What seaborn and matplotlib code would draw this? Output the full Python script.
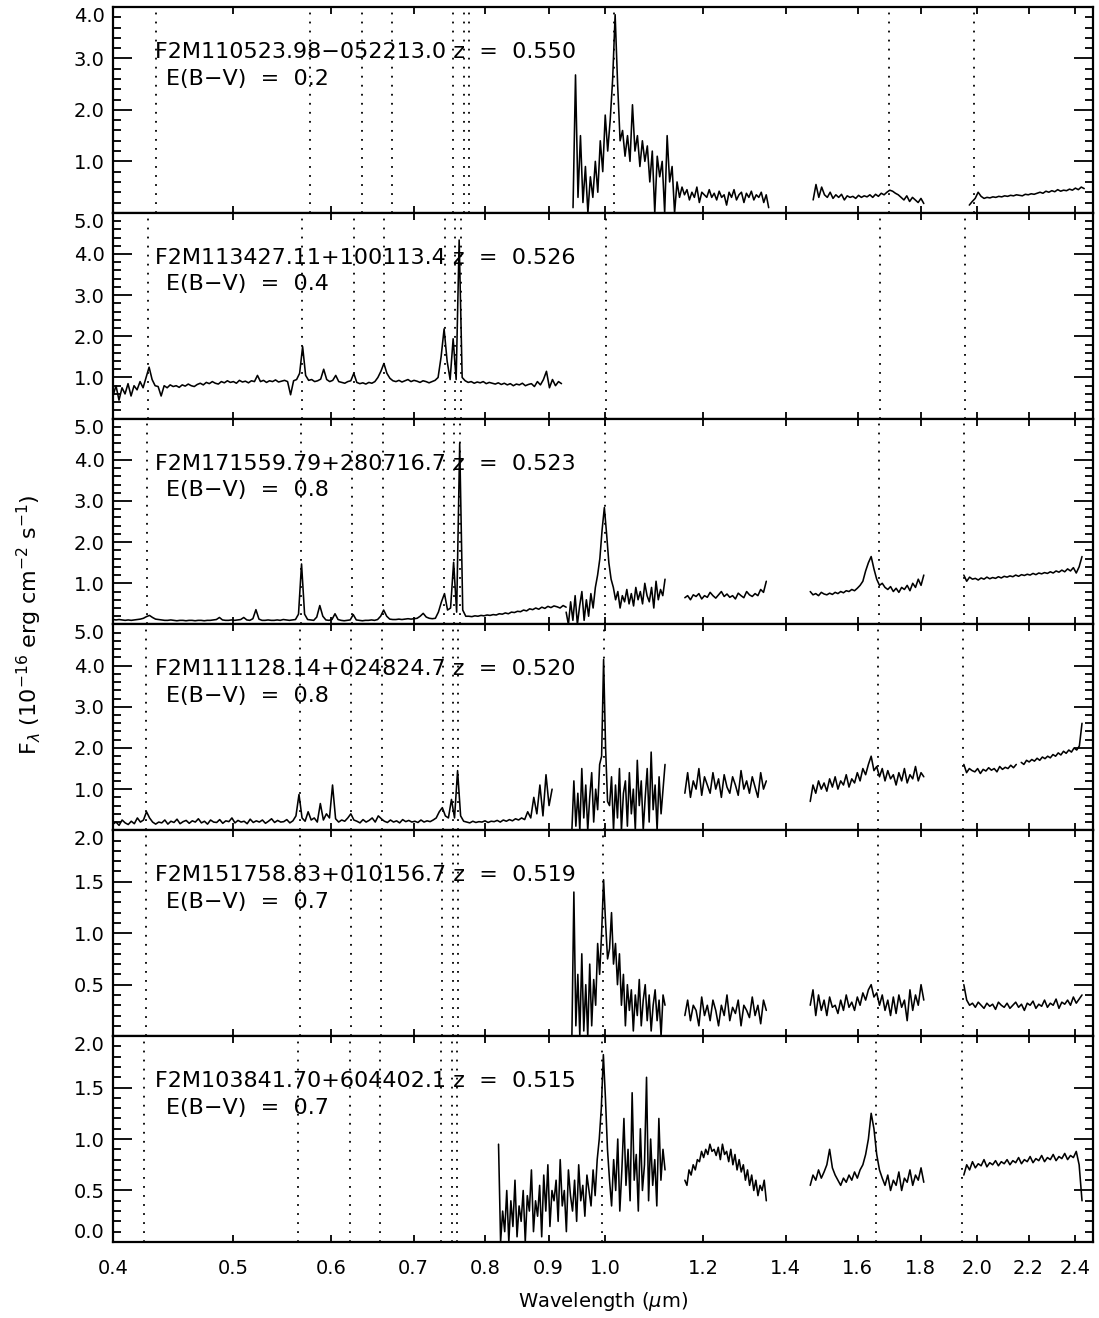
import numpy as np
import pandas as pd
import matplotlib
matplotlib.use("Agg")
import matplotlib.pyplot as plt
from matplotlib.ticker import MultipleLocator, FixedLocator, NullLocator, FixedFormatter
import seaborn as sns

# ---------------- data ----------------
names = ["F2M110523.98\u2212052213.0", "F2M113427.11+100113.4", "F2M171559.79+280716.7",
         "F2M111128.14+024824.7", "F2M151758.83+010156.7", "F2M103841.70+604402.1"]
redshifts = [0.550, 0.526, 0.523, 0.520, 0.519, 0.515]
ebv = ["0.2", "0.4", "0.8", "0.8", "0.7", "0.7"]
# rest wavelengths (micron): MgII, [OII], Hd, Hg, Hb, [OIII], [OIII], Ha, Pag, Pab
rest_lines = [0.2798, 0.3727, 0.4102, 0.4340, 0.4861, 0.4959, 0.5007, 0.6563, 1.0938, 1.2818]

xticks = [0.4, 0.5, 0.6, 0.7, 0.8, 0.9, 1.0, 1.2, 1.4, 1.6, 1.8, 2.0, 2.2, 2.4]
xticklabels = ["0.4", "0.5", "0.6", "0.7", "0.8", "0.9", "1.0", "1.2", "1.4", "1.6", "1.8", "2.0", "2.2", "2.4"]

ylims = [(0, 4), (0, 5), (0, 5), (0, 5), (0, 2), (0, 2)]
yticks = [[0, 1, 2, 3, 4], [0, 1, 2, 3, 4, 5], [0, 1, 2, 3, 4, 5], [0, 1, 2, 3, 4, 5],
          [0, 0.5, 1.0, 1.5, 2.0], [0, 0.5, 1.0, 1.5, 2.0]]
yticklabels = [["", "1.0", "2.0", "3.0", "4.0"],
               ["", "1.0", "2.0", "3.0", "4.0", "5.0"],
               ["", "1.0", "2.0", "3.0", "4.0", "5.0"],
               ["", "1.0", "2.0", "3.0", "4.0", "5.0"],
               ["", "0.5", "1.0", "1.5", "2.0"],
               ["0.0", "0.5", "1.0", "1.5", "2.0"]]
yminor = [0.2, 0.2, 0.2, 0.2, 0.1, 0.1]

# ---- panel 1 spectra ----
p1_a = [0.1, 2.68, 0.3, 1.5, 0.2, 0.9, 0.0, 0.7, 0.3, 1.0, 0.4, 1.4, 0.8, 1.9, 1.2, 1.8, 2.6, 3.85, 2.5, 1.4,
        1.6, 1.1, 1.5, 1.0, 2.1, 1.2, 1.5, 0.9, 1.4, 1.0, 1.3, 0.6, 1.2, 0.0, 1.1, 0.7, 1.0, 0.0, 1.5, 0.6,
        0.9, 0.0, 0.6, 0.3, 0.5, 0.35, 0.45, 0.25, 0.4, 0.3, 0.5, 0.2, 0.4, 0.35, 0.3, 0.45, 0.3, 0.38, 0.25, 0.42,
        0.3, 0.35, 0.15, 0.4, 0.3, 0.45, 0.25, 0.35, 0.4, 0.2, 0.38, 0.3, 0.42, 0.25, 0.35, 0.3, 0.4, 0.2, 0.35, 0.1]
p1_b = [0.25, 0.55, 0.3, 0.5, 0.35, 0.3, 0.4, 0.28, 0.35, 0.3, 0.36, 0.25, 0.33, 0.3, 0.32, 0.28, 0.34, 0.3, 0.33, 0.31,
        0.35, 0.3, 0.36, 0.32, 0.38, 0.35, 0.4, 0.44, 0.42, 0.38, 0.35, 0.3, 0.25, 0.33, 0.22, 0.3, 0.25, 0.2, 0.28, 0.18]
p1_c = [0.15, 0.22, 0.28, 0.4, 0.32, 0.28, 0.3, 0.29, 0.31, 0.3, 0.32, 0.31, 0.33, 0.32, 0.34, 0.33, 0.35, 0.34, 0.33, 0.36,
        0.35, 0.37, 0.36, 0.38, 0.4, 0.38, 0.42, 0.4, 0.43, 0.41, 0.45, 0.42, 0.44, 0.43, 0.46, 0.44, 0.48, 0.45, 0.5, 0.47]

# ---- panel 2 spectra ----
p2_opt = [0.55, 0.8, 0.45, 0.75, 0.6, 0.85, 0.55, 0.8, 0.7, 0.9, 0.75,
          1.0, 1.25, 0.95, 0.8, 0.78, 0.55, 0.8, 0.75, 0.82, 0.78,
          0.8, 0.76, 0.82, 0.79, 0.84, 0.8, 0.78, 0.83, 0.86, 0.82, 0.88, 0.85, 0.9, 0.86, 0.84, 0.9, 0.87, 0.92,
          0.88, 0.9, 0.86, 0.93, 0.89, 0.91, 0.87, 0.92, 0.9,
          1.05,
          0.9, 0.93, 0.88, 0.92, 0.9, 0.94, 0.89, 0.91, 0.93, 0.9,
          0.58,
          0.92, 0.95, 1.1, 1.75, 1.05, 0.93,
          0.95, 0.9, 0.92, 0.96,
          1.2, 0.95, 0.9, 0.93, 1.05, 0.9, 0.88, 0.86, 0.9, 0.92, 1.1, 0.88, 0.85, 0.87, 0.84, 0.88, 0.86, 0.9,
          1.0, 1.15, 1.34, 1.1, 0.98, 0.92,
          0.9, 0.93, 0.89, 0.92, 0.95, 0.9, 0.93, 0.91, 0.88, 0.92, 0.9, 0.87, 0.9, 0.93,
          1.0, 1.5, 2.18, 1.4, 0.95, 1.94, 0.95, 4.34, 1.0, 0.92,
          0.88, 0.9, 0.86, 0.89, 0.87, 0.9, 0.85, 0.88, 0.86, 0.84, 0.87, 0.83, 0.86, 0.82, 0.85, 0.8, 0.84,
          0.82, 0.86, 0.8, 0.83, 0.85, 0.78, 0.9, 0.82, 0.95,
          1.15, 0.75, 0.95, 0.8, 0.9, 0.85]

# ---- panel 3 spectra ----
p3_opt = [0.12, 0.11, 0.12, 0.11, 0.1, 0.11, 0.1, 0.11, 0.12, 0.13, 0.15,
          0.19, 0.22, 0.17, 0.13, 0.12,
          0.11, 0.1, 0.1, 0.11, 0.1, 0.09, 0.1, 0.1, 0.09, 0.1, 0.1, 0.09, 0.1, 0.1, 0.09, 0.1, 0.1, 0.11, 0.12,
          0.17, 0.11, 0.1, 0.1, 0.11, 0.1, 0.11, 0.12, 0.17, 0.11, 0.1, 0.14, 0.36, 0.13, 0.1,
          0.1, 0.11, 0.1, 0.1, 0.11, 0.1, 0.12, 0.11, 0.1, 0.11, 0.12,
          0.25, 1.47, 0.25, 0.12, 0.11, 0.1, 0.18, 0.46, 0.2, 0.11, 0.1, 0.12, 0.26, 0.12, 0.1, 0.09, 0.1, 0.11,
          0.24, 0.11, 0.1, 0.09, 0.1, 0.1, 0.11, 0.1, 0.12, 0.2, 0.35, 0.2, 0.13, 0.12,
          0.12, 0.13, 0.12, 0.13, 0.14, 0.13, 0.14, 0.15,
          0.2, 0.27, 0.18, 0.15, 0.14, 0.15, 0.3, 0.55, 0.75, 0.35, 0.4, 1.51, 0.3, 4.4, 0.35, 0.2,
          0.2, 0.19, 0.21, 0.2, 0.22, 0.21, 0.23, 0.22, 0.24, 0.23, 0.26, 0.25, 0.28, 0.26, 0.3, 0.29, 0.32,
          0.31, 0.35, 0.33, 0.38, 0.36, 0.4, 0.37, 0.42, 0.39, 0.44, 0.41, 0.45, 0.43, 0.4, 0.46, 0.42]
p3_a = [0.3, 0.0, 0.55, 0.1, 0.7, 0.0, 0.45, 0.8, 0.1, 0.6, 0.2, 0.75, 0.4, 0.9, 1.2, 1.6, 2.3, 2.84, 2.2, 1.5,
        1.1, 0.9, 0.6, 0.8, 0.4, 0.7, 0.55, 0.85, 0.5, 0.75, 0.45, 0.9, 0.6, 0.8, 0.5, 1.0, 0.7, 0.55, 0.9, 0.4,
        1.05, 0.6, 0.85, 0.7, 1.1]
p3_b = [0.65, 0.7, 0.6, 0.72, 0.68, 0.75, 0.62, 0.7, 0.66, 0.78, 0.7, 0.64, 0.72, 0.8, 0.68, 0.74, 0.66, 0.7, 0.62,
        0.76, 0.7, 0.65, 0.8, 0.72, 0.68, 0.75, 0.7, 0.85, 0.78, 1.05]
p3_c = [0.8, 0.72, 0.75, 0.7, 0.78, 0.74, 0.72, 0.76, 0.73, 0.78, 0.75, 0.8, 0.77, 0.82, 0.8, 0.85, 0.82, 0.88, 0.95,
        1.05, 1.3, 1.5, 1.65, 1.35, 1.1, 0.95, 1.0, 0.9, 0.85, 0.92, 0.8, 0.88, 0.78, 0.9, 0.85, 0.95, 0.82, 1.0,
        0.9, 1.1, 0.95, 1.2]
p3_d = [1.2, 1.05, 1.15, 1.1, 1.12, 1.08, 1.13, 1.1, 1.15, 1.11, 1.14, 1.12, 1.16, 1.13, 1.17, 1.15, 1.18, 1.16, 1.2,
        1.17, 1.21, 1.19, 1.22, 1.2, 1.24, 1.21, 1.25, 1.23, 1.26, 1.24, 1.28, 1.25, 1.3, 1.27, 1.32, 1.28, 1.35,
        1.3, 1.38, 1.25, 1.4, 1.65]

# ---- panel 4 spectra ----
p4_opt = [0.15, 0.2, 0.12, 0.25, 0.18, 0.14, 0.22, 0.16, 0.3, 0.2, 0.25,
          0.45, 0.3, 0.2, 0.15,
          0.2, 0.18, 0.25, 0.15, 0.22, 0.19, 0.27, 0.16, 0.21, 0.24, 0.17, 0.23, 0.2, 0.28, 0.18, 0.22, 0.15, 0.25,
          0.2, 0.19, 0.26, 0.17, 0.23, 0.21, 0.3, 0.18, 0.24, 0.2, 0.22, 0.16, 0.27, 0.19, 0.23, 0.2, 0.25, 0.17,
          0.22, 0.28, 0.19, 0.24, 0.2, 0.21, 0.26, 0.18, 0.23,
          0.35, 0.87, 0.3, 0.22, 0.45, 0.25, 0.3, 0.2, 0.65, 0.25, 0.4, 0.3, 1.1, 0.28, 0.2, 0.25, 0.22, 0.3, 0.4, 0.25,
          0.22, 0.18, 0.26, 0.2, 0.24, 0.3, 0.2, 0.35, 0.28, 0.22, 0.19, 0.25, 0.2, 0.23, 0.18, 0.26, 0.21, 0.24,
          0.2, 0.22, 0.19, 0.25, 0.2, 0.23, 0.21,
          0.25, 0.3, 0.45, 0.55, 0.35, 0.3, 0.75, 0.3, 1.45, 0.35, 0.22,
          0.2, 0.18, 0.22, 0.19, 0.21, 0.2, 0.23, 0.19, 0.22, 0.21, 0.24, 0.2, 0.25, 0.22, 0.26, 0.23, 0.28, 0.25,
          0.3, 0.26, 0.45, 0.3, 0.8, 0.4, 1.1, 0.35, 1.35, 0.6, 1.0]
p4_a = [0.0, 1.2, 0.1, 0.9, 0.0, 1.5, 0.3, 1.1, 0.0, 0.8, 1.4, 0.2, 1.0, 0.5, 1.6, 1.8, 4.15, 2.0, 0.7, 0.6,
        1.3, 0.0, 1.1, 0.3, 1.5, 0.0, 0.9, 1.2, 0.1, 1.4, 0.4, 1.0, 0.0, 1.7, 0.6, 1.2, 0.0, 0.8, 1.5, 0.2,
        1.9, 0.5, 1.1, 0.0, 1.3, 0.4, 1.0, 1.6]
p4_b = [0.9, 1.4, 0.8, 1.2, 1.0, 1.5, 0.85, 1.3, 1.1, 0.9, 1.4, 1.0, 1.25, 0.8, 1.35, 1.05, 0.9, 1.3, 1.1, 0.85,
        1.45, 1.0, 1.2, 0.9, 1.3, 1.05, 0.8, 1.4, 1.0, 1.2]
p4_c = [0.7, 1.1, 0.9, 1.2, 1.0, 1.15, 0.95, 1.25, 1.05, 1.3, 1.0, 1.2, 1.1, 1.35, 1.05, 1.25, 1.15, 1.4, 1.2, 1.5,
        1.35, 1.6, 1.8, 1.45, 1.55, 1.3, 1.5, 1.2, 1.45, 1.25, 1.35, 1.1, 1.4, 1.2, 1.5, 1.15, 1.35, 1.25, 1.55,
        1.2, 1.4, 1.3]
p4_d1 = [1.6, 1.4, 1.5, 1.45, 1.42, 1.5, 1.38, 1.48, 1.44, 1.52, 1.46, 1.5, 1.42, 1.55, 1.48, 1.53, 1.5, 1.58,
         1.52, 1.6]
p4_d2 = [1.65, 1.6, 1.7, 1.66, 1.72, 1.68, 1.75, 1.7, 1.78, 1.74, 1.8, 1.76, 1.84, 1.8, 1.88, 1.83, 1.92, 1.87,
         1.95, 1.9, 2.0, 1.95, 2.05, 2.6]

# ---- panel 5 spectra ----
p5_a = [0.0, 1.4, 0.1, 0.6, 0.0, 0.8, 0.05, 0.5, 0.0, 0.7, 0.1, 0.55, 0.3, 0.9, 0.6, 1.0, 1.52, 1.1, 0.75, 0.85,
        1.2, 0.7, 0.9, 0.5, 0.8, 0.3, 0.6, 0.1, 0.5, 0.25, 0.45, 0.05, 0.4, 0.2, 0.55, 0.1, 0.35, 0.5, 0.15, 0.4,
        0.05, 0.3, 0.45, 0.15, 0.35, 0.0, 0.4, 0.3]
p5_b = [0.2, 0.35, 0.15, 0.3, 0.25, 0.1, 0.38, 0.2, 0.3, 0.15, 0.35, 0.25, 0.1, 0.3, 0.2, 0.4, 0.15, 0.28, 0.22,
        0.35, 0.1, 0.3, 0.25, 0.18, 0.38, 0.2, 0.3, 0.12, 0.35, 0.25]
p5_c = [0.3, 0.45, 0.2, 0.4, 0.25, 0.35, 0.2, 0.38, 0.28, 0.3, 0.22, 0.35, 0.25, 0.4, 0.28, 0.33, 0.25, 0.38, 0.3,
        0.42, 0.35, 0.45, 0.5, 0.38, 0.42, 0.3, 0.4, 0.25, 0.35, 0.2, 0.38, 0.22, 0.4, 0.28, 0.35, 0.15, 0.45, 0.25,
        0.4, 0.3, 0.5, 0.35]
p5_d = [0.5, 0.35, 0.3, 0.32, 0.28, 0.33, 0.3, 0.27, 0.32, 0.29, 0.31, 0.26, 0.33, 0.3, 0.28, 0.32, 0.27, 0.3, 0.33,
        0.28, 0.31, 0.25, 0.32, 0.3, 0.34, 0.27, 0.31, 0.29, 0.35, 0.28, 0.32, 0.3, 0.36, 0.27, 0.33, 0.31, 0.35,
        0.3, 0.38, 0.32, 0.36, 0.4]

# ---- panel 6 spectra ----
p6_a = [0.95, 0.0, 0.3, 0.1, 0.5, 0.0, 0.4, 0.15, 0.6, 0.05, 0.35, 0.2, 0.5, 0.0, 0.45, 0.3, 0.7, 0.1, 0.4, 0.25,
        0.55, 0.05, 0.65, 0.3, 0.75, 0.15, 0.5, 0.4, 0.6, 0.2, 0.8, 0.35, 0.5, 0.1, 0.7, 0.45, 0.3, 0.6, 0.2, 0.75,
        0.4, 0.55, 0.25, 0.65, 0.5, 0.35, 0.7, 0.45, 0.8, 1.0, 1.3,
        1.82, 1.4, 0.9,
        0.6, 0.35, 0.8, 0.5, 1.0, 0.3, 0.7, 1.2, 0.55, 0.9, 0.4, 1.45, 0.6, 0.85, 0.3, 1.1, 0.5, 0.75, 1.6, 0.4,
        1.0, 0.55, 0.8, 0.35, 1.2, 0.6, 0.9, 0.7]
p6_b = [0.6, 0.55, 0.7, 0.65, 0.75, 0.7, 0.8, 0.78, 0.88, 0.82, 0.9, 0.85, 0.95, 0.88, 0.9, 0.84, 0.92, 0.8, 0.95,
        0.85, 0.88, 0.78, 0.9, 0.75, 0.85, 0.7, 0.8, 0.68, 0.75, 0.6, 0.7, 0.55, 0.65, 0.5, 0.6, 0.45, 0.55, 0.5,
        0.6, 0.4]
p6_c = [0.55, 0.65, 0.6, 0.7, 0.62, 0.68, 0.75, 0.9, 0.72, 0.65, 0.6, 0.55, 0.62, 0.58, 0.65, 0.6, 0.68, 0.62, 0.7,
        0.75, 0.85, 1.0, 1.25, 1.1, 0.85, 0.7, 0.62, 0.55, 0.65, 0.5, 0.6, 0.55, 0.68, 0.5, 0.62, 0.58, 0.7, 0.55,
        0.65, 0.6, 0.72, 0.58]
p6_d = [0.65, 0.75, 0.7, 0.78, 0.72, 0.76, 0.74, 0.8, 0.73, 0.77, 0.75, 0.79, 0.74, 0.78, 0.76, 0.8, 0.75, 0.79,
        0.77, 0.82, 0.76, 0.8, 0.78, 0.83, 0.77, 0.81, 0.79, 0.84, 0.78, 0.82, 0.8, 0.85, 0.79, 0.83, 0.81, 0.86,
        0.8, 0.84, 0.82, 0.88, 0.75, 0.4]

# segment wavelength ranges (micron) paired with their flux arrays
panels_segments = [
    [(0.942, 1.356, p1_a), (1.473, 1.81, p1_b), (1.97, 2.44, p1_c)],
    [(0.40, 0.922, p2_opt)],
    [(0.40, 0.93, p3_opt), (0.93, 1.118, p3_a), (1.16, 1.35, p3_b), (1.465, 1.81, p3_c), (1.95, 2.43, p3_d)],
    [(0.40, 0.906, p4_opt), (0.94, 1.118, p4_a), (1.16, 1.35, p4_b), (1.465, 1.81, p4_c),
     (1.95, 2.15, p4_d1), (2.17, 2.43, p4_d2)],
    [(0.94, 1.118, p5_a), (1.16, 1.35, p5_b), (1.465, 1.81, p5_c), (1.95, 2.43, p5_d)],
    [(0.82, 1.118, p6_a), (1.16, 1.35, p6_b), (1.465, 1.81, p6_c), (1.95, 2.43, p6_d)],
]

# ---------------- plotting ----------------
sns.set_style("ticks")
plt.rcParams["font.family"] = ["DejaVu Sans"]
plt.rcParams["mathtext.fontset"] = "dejavusans"
for key in ["text.color", "axes.labelcolor", "xtick.color", "ytick.color", "axes.edgecolor"]:
    plt.rcParams[key] = "black"

fig, axes = plt.subplots(6, 1, sharex=True, figsize=(10.99, 13.18), dpi=100)
fig.subplots_adjust(left=0.1028, right=0.9945, top=0.9947, bottom=0.0577, hspace=0)

for k, ax in enumerate(axes):
    rows = []
    for s, (lo, hi, vals) in enumerate(panels_segments[k]):
        wl = np.geomspace(lo, hi, len(vals))
        for w, f in zip(wl, vals):
            rows.append((w, f, s))
    df = pd.DataFrame(rows, columns=["wl", "flux", "seg"])
    sns.lineplot(data=df, x="wl", y="flux", units="seg", estimator=None, sort=False,
                 color="black", lw=1.15, ax=ax, legend=False)

    z = redshifts[k]
    for rl in rest_lines:
        ax.axvline(rl * (1 + z), color="black", lw=1.3, linestyle=(0, (1, 4)), zorder=1)

    ax.set_xscale("log")
    ax.set_xlim(0.4, 2.48)
    ax.set_ylim(*ylims[k])
    ax.set_xlabel("")
    ax.set_ylabel("")

    ax.yaxis.set_major_locator(FixedLocator(yticks[k]))
    ax.yaxis.set_major_formatter(FixedFormatter(yticklabels[k]))
    ax.yaxis.set_minor_locator(MultipleLocator(yminor[k]))
    ax.tick_params(axis="y", which="major", direction="in", length=14, width=1.3,
                   left=True, right=True, labelsize=14, pad=6, colors="black")
    ax.tick_params(axis="y", which="minor", direction="in", length=6, width=1.3,
                   left=True, right=True, colors="black")
    ax.tick_params(axis="x", which="major", direction="in", length=5, width=1.3,
                   top=True, bottom=True, labelsize=14, pad=12, colors="black")
    ax.tick_params(axis="x", which="minor", bottom=False, top=False)
    for sp in ax.spines.values():
        sp.set_linewidth(1.6)
        sp.set_color("black")

    ax.text(0.043, 0.782, f"{names[k]} z  =  {z:.3f}", transform=ax.transAxes,
            fontsize=16, ha="left", va="center", color="black")
    ax.text(0.054, 0.652, f"E(B\u2212V)  =  {ebv[k]}", transform=ax.transAxes,
            fontsize=16, ha="left", va="center", color="black")

axes[-1].xaxis.set_major_locator(FixedLocator(xticks))
axes[-1].xaxis.set_major_formatter(FixedFormatter(xticklabels))
axes[-1].xaxis.set_minor_locator(NullLocator())
axes[-1].set_xlabel("Wavelength ($\\mu$m)", fontsize=14, labelpad=9, color="black")

fig.canvas.draw()
for k, ax in enumerate(axes):
    ticks = ax.yaxis.get_major_ticks()
    ticks[-1].label1.set_verticalalignment("top")
    if k == len(axes) - 1:
        ticks[0].label1.set_verticalalignment("bottom")

fig.text(0.027, 0.526, "F$_\\lambda$ (10$^{-16}$ erg cm$^{-2}$ s$^{-1}$)", rotation=90,
         fontsize=16, ha="center", va="center", color="black")

fig.savefig("out.png", dpi=100)
